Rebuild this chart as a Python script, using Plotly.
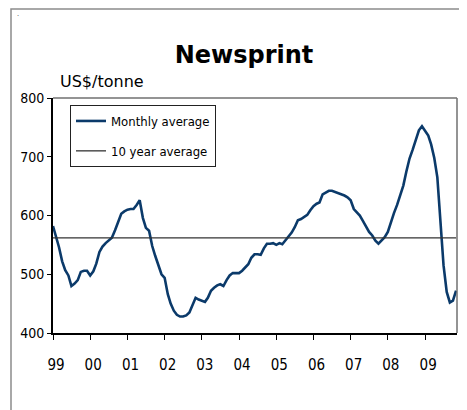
import pandas as pd
import plotly.graph_objects as go

# monthly newsprint price, US$/tonne, Jan 1999 .. Nov 2009
prices = [
    582, 565, 546, 522, 507, 498, 480, 484, 490, 504, 506, 506,   # 1999
    498, 505, 518, 538, 547, 553, 557, 562, 575, 590, 603, 607,   # 2000
    610, 611, 611, 618, 626, 596, 579, 574, 548, 531, 516, 500,   # 2001
    494, 466, 450, 438, 431, 428, 428, 430, 435, 448, 460, 457,   # 2002
    455, 453, 460, 472, 477, 481, 483, 480, 490, 498, 502, 502,   # 2003
    502, 506, 511, 517, 528, 534, 534, 533, 544, 552, 552, 553,   # 2004
    550, 553, 551, 558, 565, 571, 580, 592, 594, 598, 601, 609,   # 2005
    616, 620, 622, 636, 639, 642, 642, 640, 639, 637, 634, 631,   # 2006
    626, 611, 606, 600, 591, 582, 572, 566, 557, 552, 557, 563,   # 2007
    572, 590, 604, 618, 633, 651, 675, 697, 712, 728, 745, 752,   # 2008
    745, 736, 721, 698, 665, 580, 515, 470, 452, 455, 472,        # 2009
]
ten_year_avg = 562
dates = pd.date_range("1999-01-01", periods=len(prices), freq="MS")

NAVY = "#0b3a6a"
NARROW = "Liberation Sans Narrow, DejaVu Sans Condensed, Arial Narrow, sans-serif"

# page body has an 8px margin, so the figure is 8px smaller than the window
W, H = 459, 402
L, R, T, B = 45, 10, 90, 77
PW, PH = W - L - R, H - T - B


def px(x):
    return (x - L) / PW


def py(y):
    return 1 - (y - T) / PH


fig = go.Figure()

fig.add_trace(go.Scatter(
    x=dates, y=prices, mode="lines", name="Monthly average",
    line=dict(color=NAVY, width=2.6), legendgroup="a",
))
fig.add_trace(go.Scatter(
    x=[dates[0], dates[-1]], y=[ten_year_avg, ten_year_avg], mode="lines",
    name="10 year average", line=dict(color="#333333", width=1.3), legendgroup="b",
))

fig.update_xaxes(
    range=["1999-01-01", "2009-11-10"],
    tick0="1999-01-01", dtick="M12", tickformat="%y",
    ticks="outside", ticklen=5, tickcolor="black", tickwidth=1,
    showline=True, linecolor="black", linewidth=2,
    showgrid=False, zeroline=False,
    tickfont=dict(family=NARROW, size=15, color="black"),
    ticklabelstandoff=12, ticklabelshift=3,
)
fig.update_yaxes(
    range=[400, 800], dtick=100,
    ticks="outside", ticklen=4, tickcolor="black", tickwidth=1,
    showline=True, linecolor="black", linewidth=2,
    showgrid=False, zeroline=False,
    tickfont=dict(family=NARROW, size=14, color="black"),
)

fig.update_layout(
    width=W, height=H,
    margin=dict(l=L, r=R, t=T, b=B),
    paper_bgcolor="white", plot_bgcolor="rgba(0,0,0,0)",
    showlegend=True,
    title=dict(
        text="<b>Newsprint</b>", x=236 / W, xref="container", xanchor="center",
        y=1 - 47 / H, yref="container", yanchor="middle",
        font=dict(family="DejaVu Sans", size=24, color="black"),
    ),
    legend=dict(
        x=px(62), y=py(97), xanchor="left", yanchor="top",
        bgcolor="white", bordercolor="#222222", borderwidth=1,
        font=dict(family=NARROW, size=13, color="black"),
        traceorder="grouped", tracegroupgap=10, itemwidth=30,
    ),
    annotations=[
        dict(text="US$/tonne", x=px(50), y=py(73), xref="paper", yref="paper",
             xanchor="left", yanchor="middle", showarrow=False,
             font=dict(family="DejaVu Sans", size=16, color="black")),
        dict(text=".", x=px(10), y=py(4), xref="paper", yref="paper",
             xanchor="center", yanchor="middle", showarrow=False,
             font=dict(size=8, color="#555555")),
    ],
    shapes=[
        # outer chart frame
        dict(type="rect", xref="paper", yref="paper",
             x0=px(3), x1=2, y0=-1, y1=py(1),
             line=dict(color="#8c8c8c", width=1.5), layer="below"),
        # plot area border, top and right
        dict(type="line", xref="paper", yref="paper", x0=0, x1=1, y0=1, y1=1,
             line=dict(color="#707070", width=1.5), layer="above"),
        dict(type="line", xref="paper", yref="paper", x0=1, x1=1, y0=0, y1=1,
             line=dict(color="#707070", width=1.5), layer="above"),
    ],
)

fig.write_html("out.html")
